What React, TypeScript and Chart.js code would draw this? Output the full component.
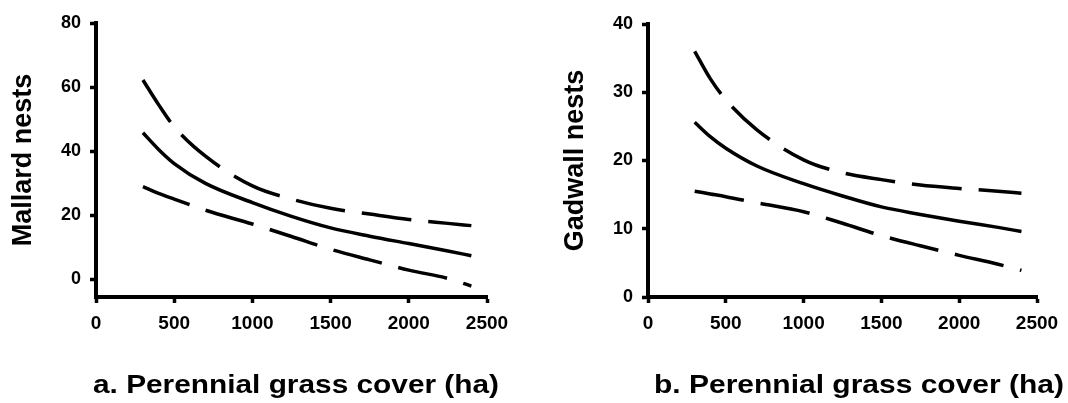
import React, { useEffect, useRef } from 'react';
import { Chart, registerables } from 'chart.js';

Chart.register(...registerables);

// Perennial grass cover (ha) at which the curves were read
const xValues = [300, 400, 500, 700, 1000, 1250, 1500, 1750, 2000, 2250, 2400];

// Mallard nests: fitted curve and confidence limits
const mallardFit = [45.7, 40.5, 36.1, 29.9, 23.9, 19.6, 16.0, 13.4, 11.1, 8.8, 7.3];
const mallardUpper = [62.2, 54.5, 47.6, 38.4, 29.1, 25.0, 22.1, 20.3, 18.6, 17.4, 16.7];
const mallardLower = [28.9, 26.8, 25.0, 21.5, 17.2, 13.3, 9.3, 6.0, 2.8, 0.2, -2.2];

// Gadwall nests: fitted curve and confidence limits
const gadwallFit = [25.6, 23.5, 21.8, 19.2, 16.6, 14.8, 13.2, 12.1, 11.1, 10.2, 9.6];
const gadwallUpper = [36.0, 32.0, 28.9, 24.5, 20.1, 18.2, 17.2, 16.4, 15.9, 15.5, 15.2];
const gadwallLower = [15.5, 15.1, 14.7, 13.8, 12.5, 10.8, 9.0, 7.5, 6.1, 4.8, 3.9];

// Tick labels
const xTicks = [0, 500, 1000, 1500, 2000, 2500];
const mallardTicks = [0, 20, 40, 60, 80];
const gadwallTicks = [0, 10, 20, 30, 40];

const FONT = "'Liberation Sans', Arial, Helvetica, sans-serif";

type PanelProps = {
  left: number;
  yTitle: string;
  xTitle: string;
  xTitleCenter: number;
  xTitleWidth: number;
  fit: number[];
  upper: number[];
  lower: number[];
  yMin: number;
  yMax: number;
  yTicks: number[];
  yAxisWidth: number;
  yTitlePad: number;
  padRight: number;
  padTop: number;
};

function toPoints(vals: number[]) {
  return xValues.map((x, i) => ({ x, y: vals[i] }));
}

function Panel(p: PanelProps) {
  const ref = useRef<HTMLCanvasElement | null>(null);

  useEffect(() => {
    if (!ref.current) return;
    const lineBase = {
      borderColor: '#000',
      borderWidth: 3.5,
      pointRadius: 0,
      fill: false,
      showLine: true,
      cubicInterpolationMode: 'monotone' as const,
    };
    const xTitlePlugin = {
      id: 'stretchedXTitle',
      afterDraw(chart: any) {
        const ctx = chart.ctx;
        ctx.save();
        ctx.font = `bold 25px ${FONT}`;
        ctx.fillStyle = '#000';
        ctx.textAlign = 'center';
        ctx.textBaseline = 'alphabetic';
        const w = ctx.measureText(p.xTitle).width;
        ctx.translate(p.xTitleCenter, 393);
        ctx.scale(p.xTitleWidth / w, 1);
        ctx.fillText(p.xTitle, 0, 0);
        ctx.restore();
      },
    };
    const chart = new Chart(ref.current, {
      type: 'scatter',
      data: {
        datasets: [
          { ...lineBase, label: 'upper', data: toPoints(p.upper), borderDash: [50, 17] },
          { ...lineBase, label: 'fit', data: toPoints(p.fit) },
          { ...lineBase, label: 'lower', data: toPoints(p.lower), borderDash: [50, 17] },
        ],
      },
      options: {
        animation: false,
        responsive: false,
        maintainAspectRatio: false,
        layout: { padding: { left: 0, right: p.padRight, top: p.padTop, bottom: 0 } },
        plugins: { legend: { display: false }, tooltip: { enabled: false } },
        scales: {
          x: {
            type: 'linear',
            min: 0,
            max: 2500,
            afterBuildTicks: (s: any) => {
              s.ticks = xTicks.map((v) => ({ value: v }));
            },
            afterFit: (s: any) => {
              s.height = 106;
            },
            grid: {
              display: true,
              drawOnChartArea: false,
              drawTicks: true,
              tickLength: 6,
              tickWidth: 3.5,
              color: '#000',
            },
            border: { display: true, color: '#000', width: 4 },
            ticks: {
              color: '#000',
              font: { family: FONT, size: 19, weight: 'bold' },
              padding: 9,
              maxRotation: 0,
              autoSkip: false,
              callback: (v: any) => String(v),
            },
            title: { display: false, text: p.xTitle },
          },
          y: {
            type: 'linear',
            min: p.yMin,
            max: p.yMax,
            afterBuildTicks: (s: any) => {
              s.ticks = p.yTicks.map((v) => ({ value: v }));
            },
            afterFit: (s: any) => {
              s.width = p.yAxisWidth;
            },
            grid: {
              display: true,
              drawOnChartArea: false,
              drawTicks: true,
              tickLength: 6,
              tickWidth: 3.5,
              color: '#000',
            },
            border: { display: true, color: '#000', width: 4 },
            ticks: {
              color: '#000',
              font: { family: FONT, size: 18, weight: 'bold' },
              padding: 9,
              autoSkip: false,
              callback: (v: any) => String(v),
            },
            title: {
              display: true,
              text: p.yTitle,
              color: '#000',
              font: { family: FONT, size: 27, weight: 'bold' },
              padding: { top: p.yTitlePad, bottom: 0 },
            },
          },
        },
      },
      plugins: [xTitlePlugin],
    } as any);
    return () => chart.destroy();
  }, []);

  return (
    <canvas
      ref={ref}
      width={534}
      height={403}
      style={{ position: 'absolute', left: p.left, top: 0, width: 534, height: 403 }}
    />
  );
}

export default function App() {
  return (
    <div
      style={{
        position: 'absolute',
        left: 0,
        top: 0,
        width: 1068,
        height: 403,
        background: '#fff',
        overflow: 'hidden',
      }}
    >
      <Panel
        left={0}
        yTitle="Mallard nests"
        xTitle="a. Perennial grass cover (ha)"
        xTitleCenter={296}
        xTitleWidth={406}
        fit={mallardFit}
        upper={mallardUpper}
        lower={mallardLower}
        yMin={-5.6}
        yMax={80}
        yTicks={mallardTicks}
        yAxisWidth={96}
        yTitlePad={7}
        padRight={47}
        padTop={23}
      />
      <Panel
        left={534}
        yTitle="Gadwall nests"
        xTitle="b. Perennial grass cover (ha)"
        xTitleCenter={325}
        xTitleWidth={410}
        fit={gadwallFit}
        upper={gadwallUpper}
        lower={gadwallLower}
        yMin={0}
        yMax={40}
        yTicks={gadwallTicks}
        yAxisWidth={114}
        yTitlePad={25}
        padRight={31}
        padTop={24}
      />
    </div>
  );
}
